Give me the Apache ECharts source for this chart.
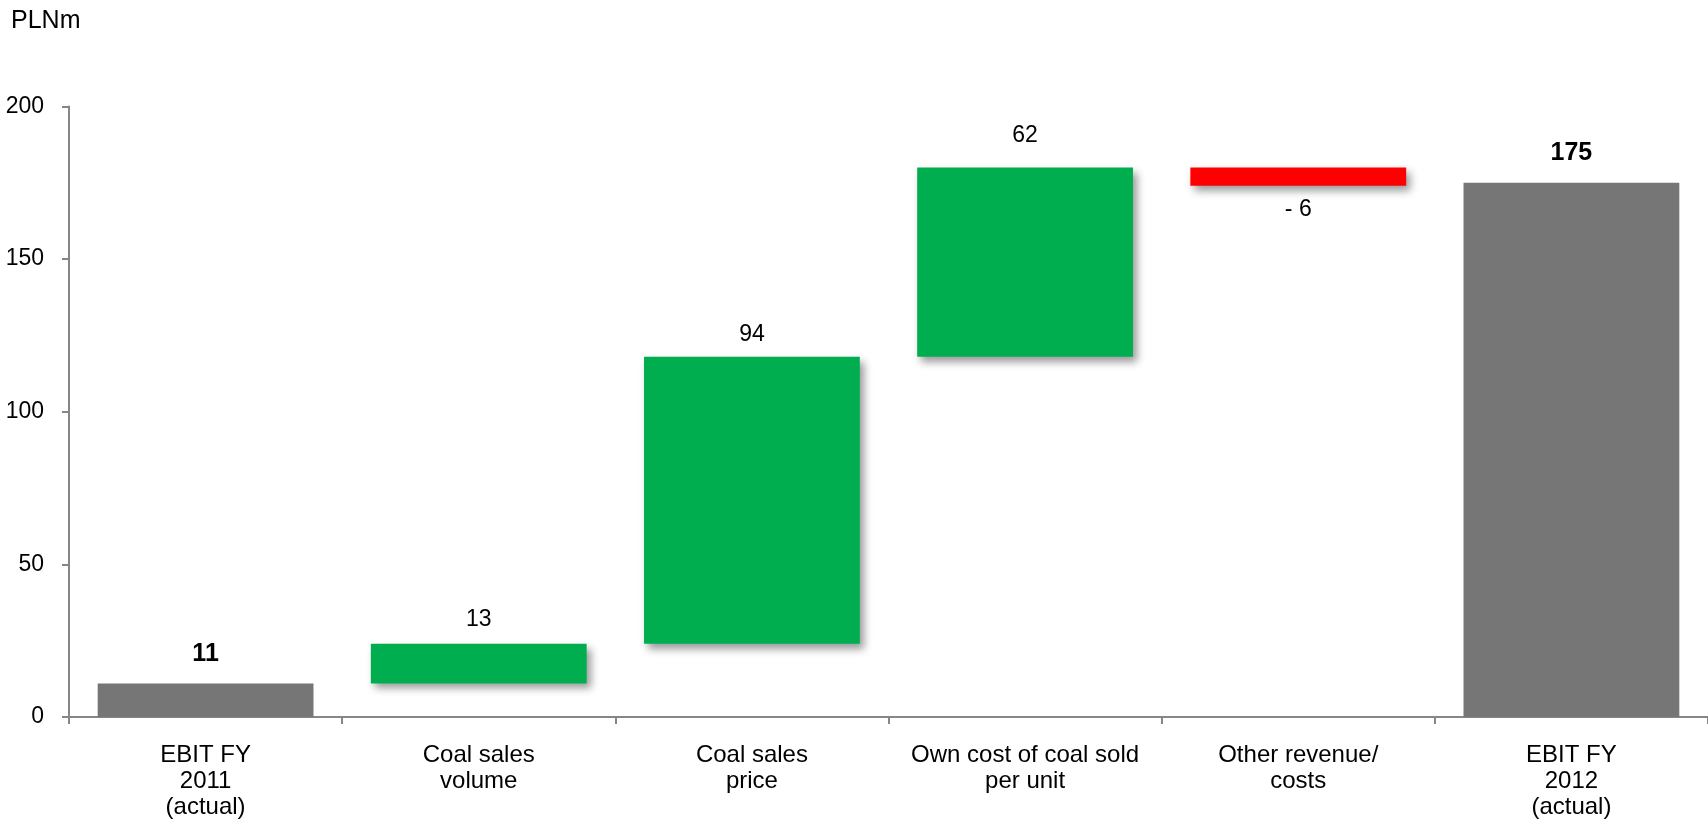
<!DOCTYPE html>
<html>
<head>
<meta charset="utf-8">
<script src="https://cdn.jsdelivr.net/npm/echarts@6/dist/echarts.min.js"></script>
<style>
  html, body { margin: 0; padding: 0; background: #ffffff; }
  #chart { width: 1708px; height: 824px; }
</style>
</head>
<body>
<div id="chart"></div>
<script>
// EBIT bridge FY2011 -> FY2012, PLNm
const categories = [
  'EBIT FY\n2011\n(actual)',
  'Coal sales\nvolume',
  'Coal sales\nprice',
  'Own cost of coal sold\nper unit',
  'Other revenue/\ncosts',
  'EBIT FY\n2012\n(actual)'
];
const changes = [11, 13, 94, 62, -6, 175];
const kinds = ['total', 'delta', 'delta', 'delta', 'delta', 'total'];
const yTicks = { min: 0, max: 200, interval: 50 };

// label spacing from the bar edge, per step
const labelGap = [17, 13, 11, 20, 12, 17];

const COLORS = { total: '#767676', up: '#00AE4F', down: '#FF0000' };
const FONT = '"Liberation Sans", Arial, sans-serif';

// Floating bars: an invisible base plus a visible segment per step
let running = 0;
const baseData = [];
const segData = [];
changes.forEach((v, i) => {
  if (kinds[i] === 'total') {
    baseData.push(0);
    segData.push({
      value: v,
      itemStyle: { color: COLORS.total },
      label: { fontWeight: 'bold', fontSize: 25, position: 'top', distance: labelGap[i] }
    });
    running = v;
  } else {
    const start = running;
    const end = running + v;
    baseData.push(Math.min(start, end));
    const up = v >= 0;
    segData.push({
      value: Math.abs(v),
      signed: v,
      itemStyle: {
        color: up ? COLORS.up : COLORS.down,
        shadowBlur: 8,
        shadowOffsetX: 4,
        shadowOffsetY: 5,
        shadowColor: 'rgba(0,0,0,0.4)'
      },
      label: { position: up ? 'top' : 'bottom', distance: labelGap[i] }
    });
    running = end;
  }
});

const chart = echarts.init(document.getElementById('chart'), null, { renderer: 'canvas' });
chart.setOption({
  animation: false,
  backgroundColor: '#ffffff',
  grid: { left: 69, right: -15, top: 106.5, bottom: 107, containLabel: false },
  graphic: [{
    type: 'text', left: 11, top: 9,
    style: { text: 'PLNm', font: '25px ' + FONT, fill: '#000' }
  }],
  xAxis: {
    type: 'category',
    data: categories,
    axisLine: { lineStyle: { color: '#868686', width: 2 } },
    axisTick: { show: true, length: 7, lineStyle: { color: '#868686', width: 2 } },
    axisLabel: {
      interval: 0, margin: 25, color: '#000',
      fontFamily: FONT, fontSize: 24, lineHeight: 26
    }
  },
  yAxis: {
    type: 'value',
    min: yTicks.min, max: yTicks.max, interval: yTicks.interval,
    splitLine: { show: false },
    axisLine: { show: true, lineStyle: { color: '#868686', width: 2 } },
    axisTick: { show: true, length: 7, lineStyle: { color: '#868686', width: 2 } },
    axisLabel: { margin: 25, color: '#000', fontFamily: FONT, fontSize: 23 }
  },
  series: [
    {
      type: 'bar', stack: 'w', data: baseData,
      itemStyle: { color: 'rgba(0,0,0,0)' },
      barCategoryGap: '21%', silent: true
    },
    {
      type: 'bar', stack: 'w', data: segData,
      barCategoryGap: '21%',
      label: {
        show: true, position: 'top', color: '#000',
        fontFamily: FONT, fontSize: 23,
        formatter: p => {
          const s = p.data.signed !== undefined ? p.data.signed : p.value;
          return s < 0 ? '- ' + Math.abs(s) : String(s);
        }
      }
    }
  ]
});
</script>
</body>
</html>
